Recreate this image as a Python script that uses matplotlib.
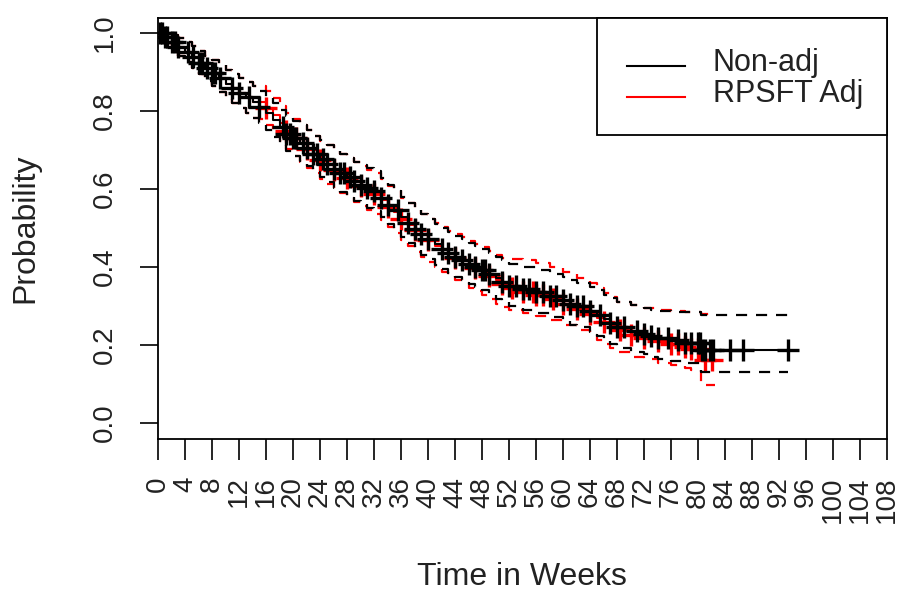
import numpy as np
import matplotlib
matplotlib.use("Agg")
import matplotlib.pyplot as plt
from matplotlib.patches import Rectangle

plt.rcParams["font.family"] = ["Liberation Sans", "DejaVu Sans"]

# Kaplan-Meier step data (weeks, survival, 95% CI)
black_time = [0, 1, 2, 3, 4, 5, 6, 7, 8, 9, 10, 11, 12, 13, 14, 15, 16, 17, 18, 19,
              20, 21, 22, 23, 24, 25, 26, 27, 28, 29, 30, 31, 32, 33, 34, 35, 36, 37,
              38, 39, 40, 41, 42, 43, 44, 45, 46, 47, 48, 49, 50, 51, 52, 54, 56, 58,
              60, 61, 62, 64, 65, 66, 67, 68, 70, 72, 73, 74, 76, 78, 80.5, 93.3]
black_surv = [1.000, 0.990, 0.978, 0.965, 0.952, 0.938, 0.924, 0.910, 0.897, 0.884,
              0.870, 0.858, 0.846, 0.835, 0.824, 0.810, 0.795, 0.778, 0.758, 0.742,
              0.730, 0.718, 0.705, 0.690, 0.678, 0.665, 0.652, 0.642, 0.630, 0.620,
              0.611, 0.603, 0.594, 0.578, 0.560, 0.545, 0.527, 0.512, 0.497, 0.484,
              0.472, 0.458, 0.446, 0.436, 0.426, 0.418, 0.408, 0.401, 0.393, 0.382,
              0.371, 0.362, 0.352, 0.343, 0.336, 0.325, 0.315, 0.306, 0.300, 0.288,
              0.278, 0.266, 0.256, 0.246, 0.236, 0.228, 0.222, 0.217, 0.212, 0.205,
              0.187, 0.187]
black_upper = [1.000, 1.000, 0.995, 0.988, 0.978, 0.966, 0.954, 0.942, 0.930, 0.918,
               0.906, 0.895, 0.884, 0.874, 0.864, 0.851, 0.837, 0.821, 0.802, 0.787,
               0.775, 0.764, 0.752, 0.737, 0.726, 0.713, 0.701, 0.691, 0.680, 0.670,
               0.661, 0.653, 0.645, 0.629, 0.611, 0.597, 0.579, 0.564, 0.549, 0.536,
               0.524, 0.511, 0.499, 0.489, 0.479, 0.471, 0.461, 0.455, 0.447, 0.436,
               0.425, 0.417, 0.407, 0.400, 0.393, 0.383, 0.374, 0.366, 0.360, 0.349,
               0.340, 0.329, 0.320, 0.311, 0.302, 0.296, 0.291, 0.288, 0.285, 0.285,
               0.277, 0.277]
black_lower = [1.000, 0.975, 0.958, 0.942, 0.925, 0.910, 0.894, 0.878, 0.863, 0.849,
               0.834, 0.820, 0.807, 0.795, 0.783, 0.768, 0.752, 0.734, 0.713, 0.697,
               0.684, 0.672, 0.658, 0.643, 0.630, 0.617, 0.603, 0.593, 0.580, 0.570,
               0.561, 0.552, 0.543, 0.527, 0.509, 0.494, 0.476, 0.461, 0.446, 0.432,
               0.420, 0.406, 0.394, 0.384, 0.374, 0.366, 0.356, 0.348, 0.340, 0.329,
               0.318, 0.309, 0.299, 0.290, 0.282, 0.271, 0.261, 0.252, 0.246, 0.234,
               0.224, 0.212, 0.202, 0.193, 0.183, 0.176, 0.170, 0.163, 0.158, 0.154,
               0.131, 0.131]
black_censor = [0.3, 0.6, 1.0, 1.3, 2.0, 2.5, 3.0, 4.5, 5.2, 6.0, 6.5, 7.2, 8.0, 8.5,
                9.2, 11.0, 12.0, 13.5, 15.0, 18.5, 19.0, 19.5, 20.0, 20.5, 21.5, 22.0,
                23.0, 23.5, 24.5, 25.0, 26.0, 27.0, 27.5, 28.5, 29.0, 30.0, 31.0, 32.0,
                33.0, 34.0, 35.5, 37.0, 38.0, 39.0, 40.0, 42.0, 43.0, 44.0, 45.0, 46.0,
                47.0, 48.0, 48.5, 49.0, 51.0, 52.0, 53.0, 54.0, 55.0, 56.0, 57.0, 58.0,
                59.0, 60.0, 61.0, 62.0, 63.0, 64.0, 65.5, 67.0, 68.0, 69.0, 71.0, 72.0,
                73.0, 74.0, 75.5, 77.0, 78.0, 79.0, 80.0, 80.3, 80.6, 81.0, 81.8, 82.2,
                84.7, 86.7, 93.3]

red_time = [0, 1, 2, 3, 4, 5, 6, 7, 8, 9, 10, 11, 12, 13, 14, 15, 16, 17, 18, 19, 20,
            21, 22, 23, 24, 25, 26, 27, 28, 29, 30, 31, 32, 33, 34, 35, 36, 37, 38, 39,
            40, 41, 42, 43, 44, 45, 46, 47, 48, 49, 50, 51, 52, 54, 56, 58, 60, 62, 64,
            65, 66, 67, 68, 70, 72, 74, 76, 78, 79, 80.5, 82.5]
red_surv = [1.000, 0.990, 0.978, 0.965, 0.952, 0.938, 0.924, 0.910, 0.897, 0.884,
            0.870, 0.858, 0.846, 0.835, 0.824, 0.822, 0.808, 0.790, 0.768, 0.748,
            0.732, 0.718, 0.703, 0.688, 0.675, 0.662, 0.650, 0.640, 0.628, 0.618,
            0.608, 0.598, 0.588, 0.572, 0.555, 0.540, 0.523, 0.508, 0.494, 0.481,
            0.468, 0.455, 0.444, 0.434, 0.424, 0.415, 0.405, 0.397, 0.388, 0.377,
            0.366, 0.356, 0.345, 0.336, 0.328, 0.318, 0.306, 0.292, 0.280, 0.270,
            0.258, 0.248, 0.238, 0.226, 0.218, 0.210, 0.203, 0.196, 0.190, 0.162,
            0.162]
red_upper = [1.000, 1.000, 0.995, 0.988, 0.978, 0.966, 0.954, 0.942, 0.930, 0.918,
             0.906, 0.895, 0.884, 0.874, 0.864, 0.864, 0.851, 0.834, 0.813, 0.794,
             0.779, 0.765, 0.751, 0.737, 0.724, 0.712, 0.700, 0.690, 0.679, 0.669,
             0.659, 0.650, 0.640, 0.625, 0.608, 0.594, 0.577, 0.563, 0.549, 0.537,
             0.524, 0.512, 0.502, 0.493, 0.484, 0.476, 0.467, 0.460, 0.452, 0.442,
             0.431, 0.423, 0.420, 0.418, 0.410, 0.399, 0.388, 0.372, 0.358, 0.347,
             0.333, 0.322, 0.311, 0.302, 0.296, 0.290, 0.286, 0.285, 0.285, 0.280,
             0.280]
red_lower = [1.000, 0.975, 0.958, 0.942, 0.925, 0.910, 0.894, 0.878, 0.863, 0.849,
             0.834, 0.820, 0.807, 0.795, 0.783, 0.779, 0.764, 0.745, 0.722, 0.702,
             0.685, 0.670, 0.655, 0.640, 0.626, 0.612, 0.600, 0.589, 0.577, 0.567,
             0.557, 0.547, 0.536, 0.520, 0.502, 0.487, 0.469, 0.454, 0.439, 0.426,
             0.413, 0.400, 0.388, 0.378, 0.367, 0.358, 0.347, 0.338, 0.329, 0.318,
             0.306, 0.297, 0.290, 0.283, 0.274, 0.263, 0.252, 0.238, 0.225, 0.214,
             0.202, 0.192, 0.181, 0.170, 0.163, 0.155, 0.148, 0.140, 0.136, 0.097,
             0.097]
red_censor = [16.0, 19.0, 20.5, 22.0, 24.0, 26.0, 28.0, 30.0, 32.0, 34.0, 36.0, 38.0,
              40.0, 44.0, 47.0, 49.0, 51.0, 52.5, 54.0, 55.5, 56.0, 57.0, 58.5, 60.0,
              62.0, 64.0, 66.0, 68.5, 70.0, 72.0, 74.0, 76.0, 77.0, 78.0, 79.0, 80.0,
              81.0, 82.0]

x_ticks = list(range(0, 109, 4))
y_ticks = [0.0, 0.2, 0.4, 0.6, 0.8, 1.0]
legend_labels = ["Non-adj", "RPSFT Adj"]
legend_colors = ["black", "#ff0000"]


def surv_at(times, surv, t):
    idx = np.searchsorted(times, t, side="right") - 1
    return np.asarray(surv)[idx]


fig = plt.figure(figsize=(8.99, 5.92), dpi=100)
ax = fig.add_axes([158 / 899, 1 - 439 / 592, 729 / 899, 421 / 592])

dash = (5, 4)
for times, surv, up, lo, cens, col in [
    (red_time, red_surv, red_upper, red_lower, red_censor, "#ff0000"),
    (black_time, black_surv, black_upper, black_lower, black_censor, "black"),
]:
    ax.step(times, up, where="post", color=col, lw=1.6, dashes=dash)
    ax.step(times, lo, where="post", color=col, lw=1.6, dashes=dash)
    ax.step(times, surv, where="post", color=col, lw=1.5)
    ax.plot(cens, surv_at(times, surv, cens), ls="none", marker="+",
            markersize=16, markeredgewidth=2.4, color=col)

ax.set_xlim(0, 108)
ax.set_ylim(-16 / 390, 1 + 15 / 390)
ax.set_xticks(x_ticks)
ax.set_xticklabels([str(v) for v in x_ticks], rotation=90, fontsize=20, color="#222222")
ax.set_yticks(y_ticks)
ax.set_yticklabels([f"{v:.1f}" for v in y_ticks], rotation=90, va="center",
                   fontsize=20, color="#222222")
ax.tick_params(axis="x", length=15, width=1.2, pad=12)
ax.tick_params(axis="y", length=13, width=1.2, pad=16)
for sp in ax.spines.values():
    sp.set_linewidth(1.3)

fig.text(25 / 899, 1 - 228 / 592, "Probability", rotation=90, ha="center",
         va="center", fontsize=23, color="#222222")
fig.text(522 / 899, 1 - 577 / 592, "Time in Weeks", ha="center", va="center",
         fontsize=23, color="#222222")

# legend box drawn like R's legend(): frame, short line, label
ax.add_patch(Rectangle((0.602, 0.722), 0.398, 0.278, transform=ax.transAxes,
                       facecolor="white", edgecolor="black", lw=1.3, zorder=5,
                       clip_on=False))
for i, (lab, col) in enumerate(zip(legend_labels, legend_colors)):
    yy = 0.886 - i * 0.0736
    ax.plot([0.643, 0.723], [yy, yy], color=col, lw=1.5, transform=ax.transAxes,
            zorder=6, clip_on=False)
    ax.text(0.761, yy + 0.008, lab, transform=ax.transAxes, ha="left", va="center",
            fontsize=22, color="#222222", zorder=6)

fig.savefig("out.png", dpi=100)
